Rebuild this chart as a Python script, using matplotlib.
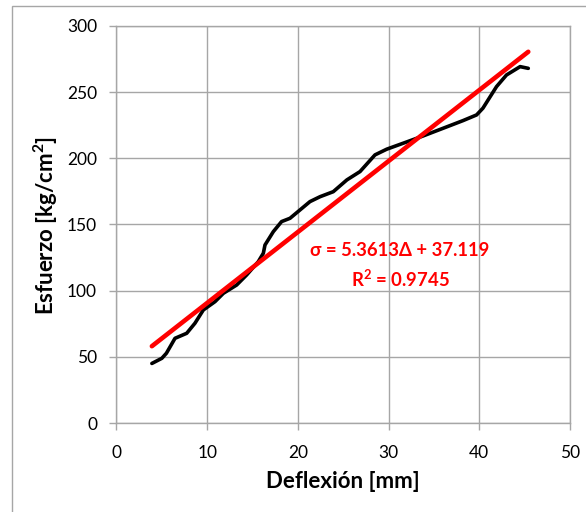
import matplotlib
matplotlib.use("Agg")
import matplotlib.pyplot as plt
from matplotlib.patches import Rectangle

# Data
deflexion = [3.9, 5.0, 5.5, 6.45, 7.74, 8.65, 9.57, 10.86, 11.78, 13.25, 14.35, 15.63,
             16.19, 16.37, 17.29, 18.2, 19.13, 20.23, 21.33, 22.44, 23.9, 25.4, 26.85,
             28.5, 29.79, 31.6, 33.8, 36.0, 38.2, 39.7, 40.4, 41.9, 43.0, 44.5, 45.4]
esfuerzo = [45, 48.9, 52.7, 64, 67.8, 75.4, 85.4, 91.7, 98, 104.3, 111.9, 121.9,
            128.3, 134.5, 144.6, 152.2, 154.7, 161, 167.3, 171, 174.8, 183.7, 190,
            202.6, 206.9, 211.4, 216.9, 222.7, 228.5, 232.8, 237.9, 254.2, 263, 269.3, 268]
slope = 5.3613
intercept = 37.119
r2 = 0.9745
x_ticks = [0, 10, 20, 30, 40, 50]
y_ticks = [0, 50, 100, 150, 200, 250, 300]

plt.rcParams['font.family'] = ['Lato', 'DejaVu Sans']
plt.rcParams['mathtext.fontset'] = 'custom'
plt.rcParams['mathtext.rm'] = 'Lato'
plt.rcParams['mathtext.bf'] = 'Lato:bold'
plt.rcParams['mathtext.default'] = 'bf'

W, H = 586, 512
fig = plt.figure(figsize=(W / 100, H / 100), dpi=100)
fig.patch.set_facecolor('white')

# chart border
fig.patches.append(Rectangle((12 / W, -0.1), 1.2, 1 - 6 / H + 0.1, transform=fig.transFigure,
                             fill=False, edgecolor='#A6A6A6', linewidth=1.0))

ax = fig.add_axes([116.5 / W, 1 - 423 / H, (570 - 116.5) / W, (423 - 26) / H])
ax.set_xlim(0, 50)
ax.set_ylim(0, 300)
ax.set_xticks(x_ticks)
ax.set_yticks(y_ticks)
ax.grid(True, color='#A6A6A6', linewidth=1.0)
ax.set_axisbelow(True)
for s in ax.spines.values():
    s.set_color('#A6A6A6')
    s.set_linewidth(1.0)
ax.tick_params(axis='both', direction='out', length=5, width=1, color='#A6A6A6',
               labelsize=12.5, labelcolor='black')
ax.tick_params(axis='y', pad=9)
ax.tick_params(axis='x', pad=11)

ax.plot(deflexion, esfuerzo, color='black', linewidth=2.6, solid_joinstyle='round',
        solid_capstyle='round', zorder=3)
xf = [min(deflexion), max(deflexion)]
yf = [slope * v + intercept for v in xf]
ax.plot(xf, yf, color='#FF0000', linewidth=3.3, solid_capstyle='round', zorder=4)

fig.text(400 / W, 1 - 251 / H, f"σ = {slope}Δ + {intercept}", color='#FF0000',
         fontsize=13.3, fontweight='bold', ha='center', va='center')
fig.text(400 / W, 1 - 279 / H, f"R$^{{2}}$ = {r2}", color='#FF0000',
         fontsize=13.3, fontweight='bold', ha='center', va='center')

fig.text(343 / W, 1 - 481 / H, "Deflexión [mm]", fontsize=16, fontweight='bold',
         ha='center', va='center')
fig.text(46 / W, 1 - 225 / H, "Esfuerzo [kg/cm$^{2}$]", fontsize=16, fontweight='bold',
         ha='center', va='center', rotation=90)

fig.savefig("out.png", dpi=100)
